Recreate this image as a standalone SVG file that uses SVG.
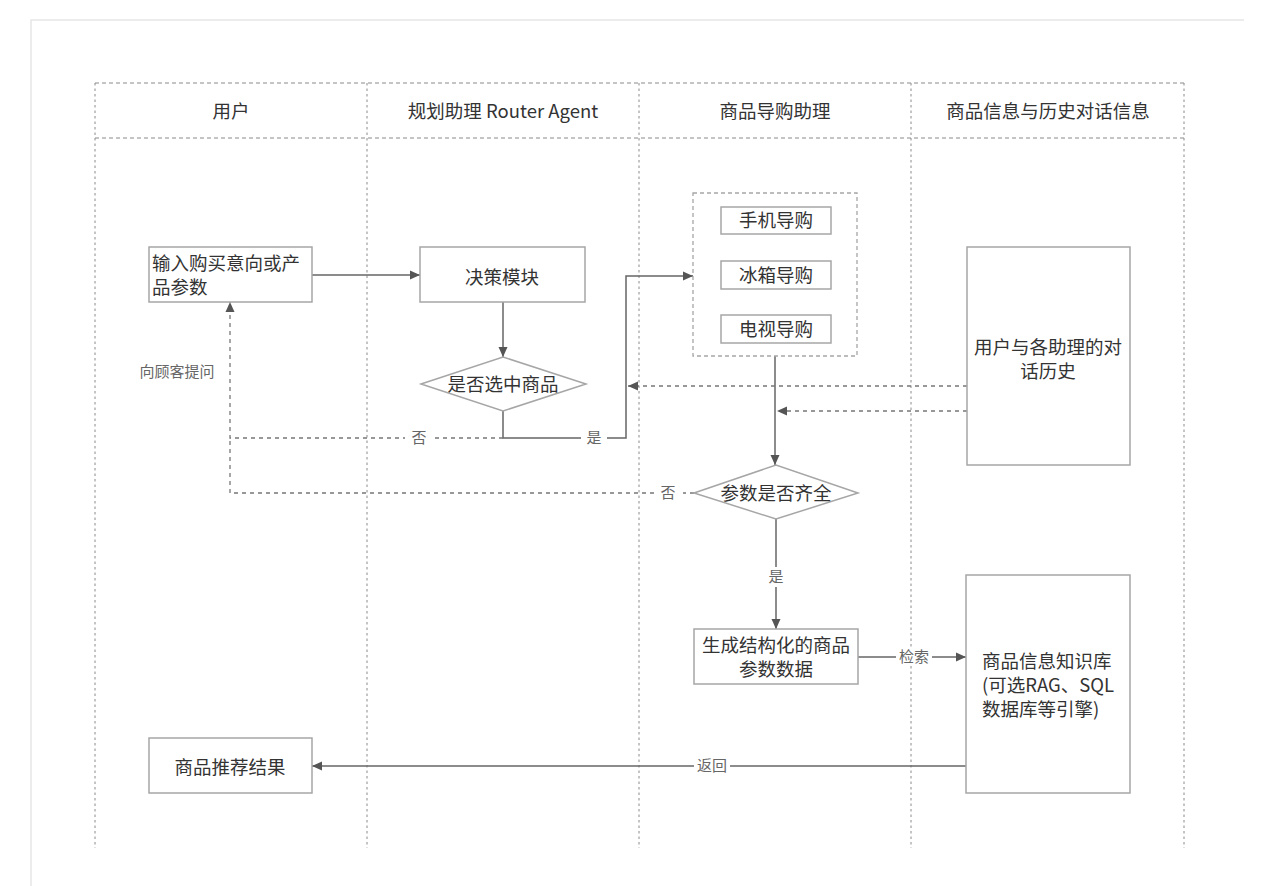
<svg xmlns="http://www.w3.org/2000/svg" width="1268" height="886" viewBox="0 0 1268 886">
<defs>
<style>
.lane{fill:none;stroke:#8a8a8a;stroke-width:1;stroke-dasharray:2.5 3}
.hl{fill:none;stroke:#8a8a8a;stroke-width:1;stroke-dasharray:4 3}
.box{fill:#fff;stroke:#a6a6a6;stroke-width:1.5}
.sub{fill:#fff;stroke:#a6a6a6;stroke-width:1.5}
.grp{fill:#fff;stroke:#a6a6a6;stroke-width:1.3;stroke-dasharray:4 3}
.t{font-family:"Noto Sans CJK SC","Liberation Sans",sans-serif;font-size:18.5px;fill:#333}
.h{font-family:"Noto Sans CJK SC","Liberation Sans",sans-serif;font-size:18.5px;fill:#333;text-anchor:middle}
.lbl{font-family:"Noto Sans CJK SC","Liberation Sans",sans-serif;font-size:15px;fill:#666;text-anchor:middle}
.c{text-anchor:middle}
.ln{fill:none;stroke:#666;stroke-width:1.5}
.dl{fill:none;stroke:#777;stroke-width:1.3;stroke-dasharray:4 4}
</style>
<marker id="ah" viewBox="0 0 10 10" refX="10" refY="5" markerWidth="10" markerHeight="10" markerUnits="userSpaceOnUse" orient="auto">
<path d="M0,0.5 L10,5 L0,9.5 z" fill="#555"/>
</marker>
</defs>
<rect x="0" y="0" width="1268" height="886" fill="#fff"/>
<path d="M31,886 V20 H1244" fill="none" stroke="#e6e6e6" stroke-width="1.5"/>

<g id="lanes">
<path class="hl" d="M95,83 H1184 M95,138 H1184"/>
<path class="lane" d="M95,83 V848 M367,83 V848 M639,83 V848 M911,83 V848 M1184,83 V848"/>
<text class="h" x="231" y="118">用户</text>
<text class="h" x="503" y="118">规划助理 Router Agent</text>
<text class="h" x="775" y="118">商品导购助理</text>
<text class="h" x="1048" y="118">商品信息与历史对话信息</text>
</g>

<g id="connectors">
<path class="ln" d="M312,275 H420" marker-end="url(#ah)"/>
<path class="ln" d="M503,302 V357" marker-end="url(#ah)"/>
<path class="ln" d="M503,411 V438 H626 V276 H693" marker-end="url(#ah)"/>
<path class="dl" d="M503,438 H230 V302" marker-end="url(#ah)"/>
<path class="dl" d="M694,493 H230 V440"/>
<path class="ln" d="M775,356 V465" marker-end="url(#ah)"/>
<path class="dl" d="M967,386 H628" marker-end="url(#ah)"/>
<path class="dl" d="M967,411 H777" marker-end="url(#ah)"/>
<path class="ln" d="M776,519 V629" marker-end="url(#ah)"/>
<path class="ln" d="M858,657 H966" marker-end="url(#ah)"/>
<path class="ln" d="M966,766 H312" marker-end="url(#ah)"/>
<rect x="405" y="429" width="28" height="18" fill="#fff"/>
<text class="lbl" x="419" y="443">否</text>
<rect x="581" y="429" width="26" height="18" fill="#fff"/>
<text class="lbl" x="594" y="443">是</text>
<rect x="655" y="484" width="28" height="18" fill="#fff"/>
<text class="lbl" x="668" y="498">否</text>
<rect x="765" y="567" width="22" height="20" fill="#fff"/>
<text class="lbl" x="776" y="582">是</text>
<rect x="896" y="648" width="36" height="18" fill="#fff"/>
<text class="lbl" x="914" y="662">检索</text>
<rect x="694" y="757" width="36" height="18" fill="#fff"/>
<text class="lbl" x="712" y="771">返回</text>
<text class="lbl" x="177" y="377">向顾客提问</text>
</g>

<g id="n-input">
<rect class="box" x="149" y="247" width="163" height="55"/>
<text class="t" x="152" y="270">输入购买意向或产</text>
<text class="t" x="152" y="294">品参数</text>
</g>

<g id="n-decision">
<rect class="box" x="420" y="247" width="165" height="55"/>
<text class="t c" x="502" y="284">决策模块</text>
</g>

<g id="n-selected">
<polygon class="box" points="421,384 503,357 586,384 503,411"/>
<text class="t c" x="503" y="391">是否选中商品</text>
</g>

<g id="n-guides">
<rect class="grp" x="693" y="193" width="164" height="163"/>
<rect class="sub" x="721" y="207" width="110" height="27"/>
<text class="t c" x="776" y="227">手机导购</text>
<rect class="sub" x="721" y="261" width="110" height="28"/>
<text class="t c" x="776" y="282">冰箱导购</text>
<rect class="sub" x="721" y="315" width="110" height="28"/>
<text class="t c" x="776" y="336">电视导购</text>
</g>

<g id="n-history">
<rect class="box" x="967" y="247" width="163" height="218"/>
<text class="t c" x="1048" y="354">用户与各助理的对</text>
<text class="t c" x="1048" y="378">话历史</text>
</g>

<g id="n-complete">
<polygon class="box" points="694,493 776,465 858,493 776,519"/>
<text class="t c" x="776" y="500">参数是否齐全</text>
</g>

<g id="n-generate">
<rect class="box" x="694" y="629" width="164" height="55"/>
<text class="t c" x="776" y="652">生成结构化的商品</text>
<text class="t c" x="776" y="676">参数数据</text>
</g>

<g id="n-kb">
<rect class="box" x="966" y="575" width="164" height="218"/>
<text class="t" x="982" y="668">商品信息知识库</text>
<text class="t" x="982" y="692">(可选RAG、SQL</text>
<text class="t" x="982" y="716">数据库等引擎)</text>
</g>

<g id="n-result">
<rect class="box" x="149" y="738" width="163" height="55"/>
<text class="t c" x="230" y="774">商品推荐结果</text>
</g>
</svg>
